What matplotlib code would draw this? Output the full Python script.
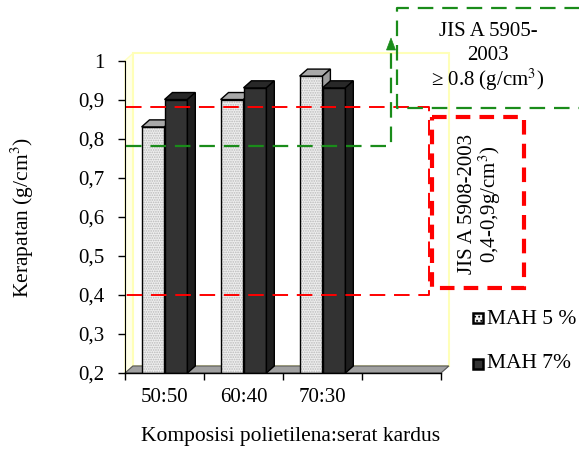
import matplotlib.pyplot as plt
from matplotlib.patches import Polygon, Rectangle
import numpy as np

# Data kerapatan papan komposit
komposisi = ['50:50', '60:40', '70:30']
mah5 = [0.83, 0.90, 0.96]
mah7 = [0.90, 0.93, 0.93]
seri = ['MAH 5 %', 'MAH 7%']
yticks = [0.2, 0.3, 0.4, 0.5, 0.6, 0.7, 0.8, 0.9, 1.0]
ytick_labels = ['0,2', '0,3', '0,4', '0,5', '0,6', '0,7', '0,8', '0,9', '1']

# Garis standar
jis5908_bawah = 0.40
jis5908_atas = 0.88
jis5905 = 0.78

plt.rcParams['font.family'] = ['Liberation Serif', 'DejaVu Serif']
plt.rcParams['hatch.linewidth'] = 0.8
plt.rcParams['mathtext.fontset'] = 'stix'

W, H = 579, 457
fig = plt.figure(figsize=(W / 100, H / 100), dpi=100)
ax = fig.add_axes([125 / W, 1 - 373 / H, 316 / W, 312.5 / H])
ax.set_xlim(0, 4)
ax.set_ylim(0.2, 1.0)

# kedalaman efek 3D (dalam satuan data)
dx, dy = 0.10, 0.018
lebar = 0.29
x = np.arange(len(komposisi)) + 0.5

# dinding belakang, samping dan lantai
ax.add_patch(Polygon([(0, 0.2), (dx, 0.2 + dy), (dx, 1 + dy), (0, 1)],
                     facecolor='#ffffe8', edgecolor='#ffffc0', lw=1, clip_on=False, zorder=0))
ax.add_patch(Rectangle((dx, 0.2 + dy), 4, 0.8, facecolor='white', edgecolor='#ffffb8',
                       lw=1.5, clip_on=False, zorder=0))
ax.add_patch(Polygon([(0, 0.2), (4, 0.2), (4 + dx, 0.2 + dy), (dx, 0.2 + dy)],
                     facecolor='#a0a0a0', edgecolor='#555555', lw=0.8, clip_on=False, zorder=1))


def batang_3d(xc, nilai, muka, atas, sisi, hatch=None, warna_hatch=None):
    tinggi = np.array(nilai) - 0.2
    if hatch:
        ax.bar(xc, tinggi, bottom=0.2, width=lebar, color=muka,
               edgecolor=warna_hatch, lw=0, hatch=hatch, zorder=3)
        ax.bar(xc, tinggi, bottom=0.2, width=lebar, fill=False,
               edgecolor='black', lw=1, zorder=3)
    else:
        ax.bar(xc, tinggi, bottom=0.2, width=lebar, color=muka,
               edgecolor='black', lw=1, zorder=3)
    for xi, v in zip(xc, nilai):
        x0, x1 = xi - lebar / 2, xi + lebar / 2
        ax.add_patch(Polygon([(x0, v), (x1, v), (x1 + dx, v + dy), (x0 + dx, v + dy)],
                             facecolor=atas, edgecolor='black', lw=1, zorder=3, clip_on=False))
        ax.add_patch(Polygon([(x1, 0.2), (x1 + dx, 0.2 + dy), (x1 + dx, v + dy), (x1, v)],
                             facecolor=sisi, edgecolor='black', lw=1, zorder=3, clip_on=False))


batang_3d(x - lebar / 2, mah5, '#eeeeee', '#a9a9a9', '#9c9c9c', hatch='.......', warna_hatch='#b8b8b8')
batang_3d(x + lebar / 2, mah7, '#333333', '#282828', '#1e1e1e')

# sumbu
for s in ['top', 'right', 'bottom']:
    ax.spines[s].set_visible(False)
ax.spines['left'].set_color('black')
ax.axhline(0.2, color='black', lw=1, zorder=4, clip_on=False)
ax.set_yticks(yticks)
ax.set_yticklabels(ytick_labels, fontsize=15)
ax.tick_params(axis='y', length=5, width=1, pad=10)
ax.set_xticks(np.arange(0, 5))
ax.set_xticklabels([])
ax.set_xticks(x, minor=True)
ax.set_xticklabels(komposisi, minor=True, fontsize=15)
ax.tick_params(axis='x', which='major', length=5, width=1)
ax.tick_params(axis='x', which='minor', length=0, pad=11)
ax.patch.set_alpha(0)

fig.text(22 / W, 1 - 218 / H, 'Kerapatan (g/cm$^3$)', rotation=90, fontsize=15.5,
         ha='center', va='center')
fig.text(291 / W, 1 - 437 / H, 'Komposisi polietilena:serat kardus', fontsize=15.5,
         ha='center', va='center')

# lapisan anotasi dalam koordinat piksel
kanvas = fig.add_axes([0, 0, 1, 1], zorder=5)
kanvas.set_xlim(0, W)
kanvas.set_ylim(H, 0)
kanvas.axis('off')


def py(v):
    return H - ax.transData.transform((0, v))[1]


merah = '#ff0000'
hijau = '#1a8c1a'
putus = (0, (8, 4.5))

# JIS A 5908-2003
y_atas, y_bawah = py(jis5908_atas), py(jis5908_bawah)
kanvas.plot([126, 429, 429, 126], [y_atas, y_atas, y_bawah, y_bawah],
            color=merah, lw=1.4, ls=putus)
kanvas.add_patch(Rectangle((432, 117), 92, 171, fill=False, edgecolor=merah,
                           lw=3, ls=(0, (3.5, 2.2))))
kanvas.text(468, 204, 'JIS A 5908-2003', rotation=90, fontsize=15,
            ha='center', va='center')
kanvas.text(490, 204, '0,4-0,9g/cm$^3$)', rotation=90, fontsize=15,
            ha='center', va='center')

# JIS A 5905-2003
y_hijau = py(jis5905)
kanvas.plot([126, 391, 391], [y_hijau, y_hijau, 50], color=hijau, lw=1.6, ls=(0, (7, 4)))
kanvas.add_patch(Polygon([(386.5, 50), (395.5, 50), (391, 38)], closed=True,
                         facecolor=hijau, edgecolor=hijau, lw=0.5))
kanvas.plot([585, 397, 397, 585], [7.5, 7.5, 108, 108], color=hijau, lw=1.6,
            ls=(0, (7, 4)), clip_on=False)
kanvas.text(488, 31, 'JIS A 5905-', fontsize=15, ha='center', va='center')
kanvas.text(488, 56, '2003', fontsize=15, ha='center', va='center')
kanvas.text(488, 80, '≥ 0.8 (g/cm$^3$)', fontsize=15, ha='center', va='center')

# legenda
kanvas.add_patch(Rectangle((473, 313), 10, 10, facecolor='#f2f2f2', edgecolor='black',
                           lw=1.8, hatch='....'))
kanvas.add_patch(Rectangle((473, 359), 10, 10, facecolor='#333333', edgecolor='black', lw=1.8))
kanvas.text(487, 319, seri[0], fontsize=15.5, va='center', ha='left')
kanvas.text(487, 364, seri[1], fontsize=15.5, va='center', ha='left')

fig.savefig('out.png', dpi=100)
